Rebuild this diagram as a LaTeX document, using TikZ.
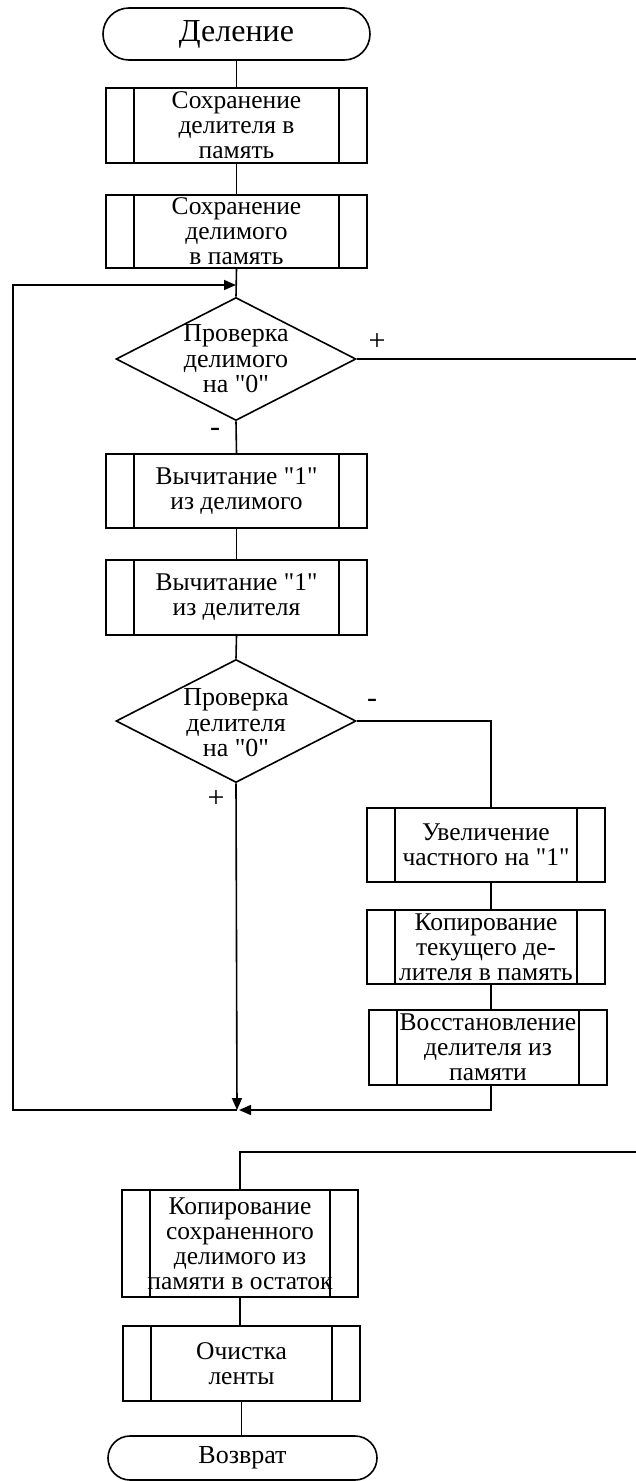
\documentclass[tikz,border=0pt]{standalone}
\usepackage{fontspec}
\setmainfont{Liberation Serif}[Ligatures=TeXOff]
\usetikzlibrary{shapes.geometric,shapes.misc,arrows.meta}
\begin{document}
\begin{tikzpicture}[x=1pt,y=-1pt,
  line width=1.6pt,
  term/.style={draw, rounded rectangle, inner sep=0pt, font=\fontsize{26}{25}\selectfont},
  proc/.style={draw, rectangle, inner sep=0pt, align=center, font=\fontsize{25.5}{25}\selectfont},
  decision/.style={draw, diamond, inner sep=0pt, minimum width=240pt, minimum height=123pt},
  dtxt/.style={align=center, inner sep=0pt, font=\fontsize{26}{25.5}\selectfont},
  lbl/.style={font=\fontsize{30}{30}\selectfont, inner sep=0pt},
  arr/.style={-{Triangle[length=12pt,width=10pt]}},
]
\useasboundingbox (0,0) rectangle (636,1481);

\node[term, minimum width=267pt, minimum height=52pt, font=\fontsize{32}{32}\selectfont] (s) at (236.5,34) {Деление};
\node[proc, minimum width=261pt, minimum height=75pt] (b1) at (236.5,125.5) {Сохранение\\делителя в\\память};
\node[proc, minimum width=261pt, minimum height=73pt] (b2) at (236.5,231.5) {Сохранение\\делимого\\в память};
\node[decision] (d1) at (236,359) {};
\node[dtxt] (t1) at (236,359) {Проверка\\делимого\\на "0"};
\node[proc, minimum width=261pt, minimum height=74pt] (b3) at (236.5,491) {Вычитание "1"\\из делимого};
\node[proc, minimum width=261pt, minimum height=75pt] (b4) at (236.5,597.5) {Вычитание "1"\\из делителя};
\node[decision] (d2) at (236,721) {};
\node[dtxt] (t2) at (236,723) {Проверка\\делителя\\на "0"};
\node[proc, minimum width=238pt, minimum height=74pt] (b5) at (486,845) {Увеличение\\частного на "1"};
\node[proc, minimum width=238pt, minimum height=74pt] (b6) at (486,947) {Копирование\\текущего де-\\лителя в память};
\node[proc, minimum width=238pt, minimum height=75pt] (b7) at (488,1047.5) {Восстановление\\делителя из\\памяти};
\node[proc, minimum width=236pt, minimum height=107pt] (b8) at (240,1243.5) {Копирование\\сохраненного\\делимого из\\памяти в остаток};
\node[proc, minimum width=237pt, minimum height=75pt] (b9) at (241.5,1363.5) {Очистка\\ленты};
\node[term, minimum width=269pt, minimum height=44pt] (e) at (242.5,1458) {Возврат};

% inner vertical lines of predefined process boxes
\foreach \n in {b1,b2,b3,b4,b5,b6,b7,b8,b9}
  \draw ([xshift=29pt]\n.north west) -- ([xshift=29pt]\n.south west)
        ([xshift=-29pt]\n.north east) -- ([xshift=-29pt]\n.south east);

% labels
\node[lbl] (p1) at (377,342) {+};
\node[lbl] (m1) at (215,432) {-};
\node[lbl] (m2) at (372,703) {-};
\node[lbl] (p2) at (216,799) {+};

% helper coordinates
\coordinate (L1) at (13,285);
\coordinate (L2) at (13,1110);
\coordinate (M) at (237,1110);
\coordinate (C) at (491,721);
\coordinate (R1) at (636,359);
\coordinate (R2) at (636,1152);

% connectors
\draw (s.south) -- (b1.north);
\draw (b1.south) -- (b2.north);
\draw (b2.south) -- (d1.north);
\draw (d1.south) -- (b3.north);
\draw (b3.south) -- (b4.north);
\draw (b4.south) -- (d2.north);
\draw (d2.east) -- (C) -- (C |- b5.north);
\draw (C |- b5.south) -- (C |- b6.north);
\draw (C |- b6.south) -- (C |- b7.north);
\draw[arr] (C |- b7.south) -- (C |- M) -- ([xshift=2pt]M);
\draw[arr] (d2.south) -- (M);
\draw[arr] (M) -- (L2) -- (L1) -- (d1.north |- L1);
\draw (d1.east) -- (R1);
\draw (R2) -- (b8.north |- R2) -- (b8.north);
\draw (b8.south) -- (b8.south |- b9.north);
\draw (b9.south) -- (b9.south |- e.north);
\end{tikzpicture}
\end{document}
